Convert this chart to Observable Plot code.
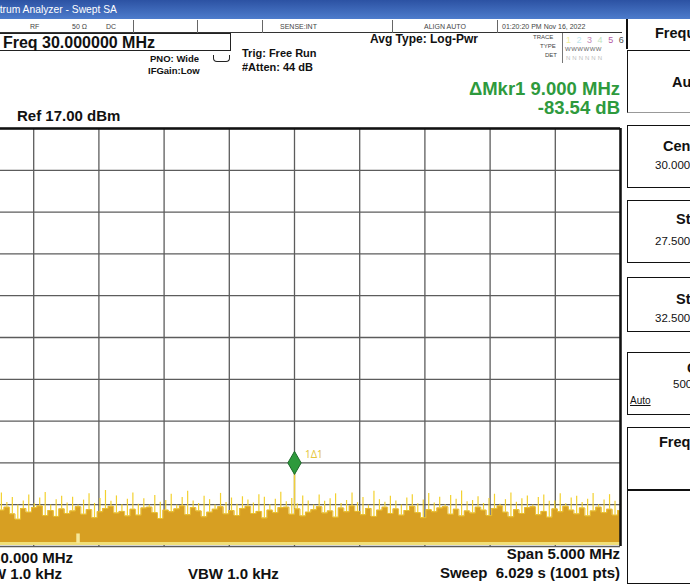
<!DOCTYPE html>
<html>
<head>
<meta charset="utf-8">
<script src="https://cdn.jsdelivr.net/npm/d3@7"></script>
<script src="https://cdn.jsdelivr.net/npm/@observablehq/plot@0.6"></script>
<style>
  html, body { margin: 0; padding: 0; overflow: hidden; background: #fff; }
  #screen { position: relative; width: 690px; height: 588px; overflow: hidden; background: #fff;
    font-family: "Liberation Sans", Arial, sans-serif; color: #111; }
  .abs { position: absolute; white-space: nowrap; line-height: 1; }
  .b { font-weight: bold; }
  .tiny { font-size: 7px; color: #444; }
  .sep { position: absolute; top: 20px; width: 1px; height: 13px; background: #666; }
  .key { position: absolute; left: 627px; width: 80px; border: 1.5px solid #111; box-sizing: border-box; }
  .kt { font-weight: bold; font-size: 14.5px; }
  .kv { font-size: 11.5px; }
  #chart { position: absolute; left: -40px; top: 120px; }
</style>
</head>
<body>
<div id="screen">
  <!-- title bar -->
  <div class="abs" style="left:0;top:0;width:690px;height:19px;background:linear-gradient(#2c52a3,#4d7ccc);"></div>
  <div class="abs" style="right:573px;top:5px;font-size:10.3px;color:#fff;">Spectrum Analyzer - Swept SA</div>

  <!-- status row -->
  <div class="abs" style="left:0;top:32px;width:622px;height:1px;background:#333;"></div>
  <div class="abs tiny" style="left:30px;top:23px;">RF</div>
  <div class="abs tiny" style="left:72px;top:23px;">50 Ω</div>
  <div class="abs tiny" style="left:106px;top:23px;">DC</div>
  <div class="sep" style="left:133px;"></div>
  <div class="sep" style="left:197px;"></div>
  <div class="sep" style="left:262px;"></div>
  <div class="abs tiny" style="left:280px;top:23px;">SENSE:INT</div>
  <div class="sep" style="left:392px;"></div>
  <div class="abs tiny" style="left:424px;top:23px;">ALIGN AUTO</div>
  <div class="sep" style="left:497px;"></div>
  <div class="abs tiny" style="left:502px;top:23px;">01:20:20 PM Nov 16, 2022</div>

  <!-- settings -->
  <div class="abs" style="left:-3px;top:33px;width:234px;height:18px;border:1.5px solid #222;box-sizing:border-box;"></div>
  <div class="abs b" style="right:535px;top:35px;font-size:16px;">Center Freq 30.000000 MHz</div>
  <div class="abs b" style="left:150px;top:54px;font-size:9.5px;">PNO: Wide</div>
  <div class="abs" style="left:213px;top:55px;width:15px;height:6px;border:1.3px solid #222;border-top:none;border-radius:0 0 4px 4px;"></div>
  <div class="abs b" style="left:148px;top:66px;font-size:9.5px;">IFGain:Low</div>
  <div class="abs b" style="left:242px;top:48px;font-size:11px;">Trig: Free Run</div>
  <div class="abs b" style="left:242px;top:62px;font-size:11px;">#Atten: 44 dB</div>
  <div class="abs b" style="left:370px;top:33px;font-size:12px;">Avg Type: Log-Pwr</div>
  <div class="abs tiny" style="left:533px;top:34px;font-size:6px;">TRACE</div>
  <div class="abs tiny" style="left:540px;top:43px;font-size:6px;">TYPE</div>
  <div class="abs tiny" style="left:545px;top:52px;font-size:6px;">DET</div>
  <div class="abs" style="left:562px;top:33px;width:1px;height:30px;background:#777;"></div>
  <div class="abs" style="left:566px;top:36px;font-size:9px;letter-spacing:1.5px;">
    <span style="color:#f3ef9a">1</span> <span style="color:#bfe8ef">2</span> <span style="color:#c58bb6">3</span>
    <span style="color:#bfe3bf">4</span> <span style="color:#b45aa4">5</span> <span style="color:#555">6</span></div>
  <div class="abs tiny" style="left:565px;top:46px;font-size:6px;letter-spacing:0.5px;color:#666;">WWWWWW</div>
  <div class="abs tiny" style="left:566px;top:55px;font-size:6px;letter-spacing:2px;color:#bbb;">NNNNNN</div>
  <div class="abs b" style="right:70px;top:80px;font-size:18.5px;color:#2e9a3d;">ΔMkr1 9.000 MHz</div>
  <div class="abs b" style="right:70px;top:99px;font-size:18.5px;color:#2e9a3d;">-83.54 dB</div>
  <div class="abs b" style="left:17px;top:108px;font-size:15px;">Ref 17.00 dBm</div>

  <!-- graticule + trace -->
  <div id="chart"></div>

  <!-- bottom annotations -->
  <div class="abs b" style="right:617px;top:550px;font-size:15px;">Center 30.000 MHz</div>
  <div class="abs b" style="right:628px;top:566px;font-size:15px;">#Res BW 1.0 kHz</div>
  <div class="abs b" style="left:188px;top:566px;font-size:15px;">VBW 1.0 kHz</div>
  <div class="abs b" style="right:70px;top:546px;font-size:15px;">Span 5.000 MHz</div>
  <div class="abs b" style="right:70px;top:565px;font-size:15px;">Sweep&nbsp;&nbsp;6.029 s (1001 pts)</div>

  <!-- softkey panel -->
  <div class="abs" style="left:626px;top:19px;width:1.5px;height:30px;background:#111;"></div>
  <div class="abs kt" style="left:655px;top:26px;">Frequency</div>
  <div class="key" style="top:50px;height:63px;border-bottom-color:#999;"></div>
  <div class="abs kt" style="left:672px;top:75px;">Auto Tune</div>
  <div class="key" style="top:125px;height:63px;"></div>
  <div class="abs kt" style="left:663px;top:139px;">Center Freq</div>
  <div class="abs kv" style="left:655px;top:160px;">30.000000 MHz</div>
  <div class="key" style="top:200px;height:63px;"></div>
  <div class="abs kt" style="left:676px;top:212px;">Start Freq</div>
  <div class="abs kv" style="left:655px;top:236px;">27.500000 MHz</div>
  <div class="key" style="top:277px;height:55px;"></div>
  <div class="abs kt" style="left:676px;top:292px;">Stop Freq</div>
  <div class="abs kv" style="left:655px;top:313px;">32.500000 MHz</div>
  <div class="key" style="top:352px;height:63px;"></div>
  <div class="abs kt" style="left:687px;top:361px;">CF Step</div>
  <div class="abs kv" style="left:673px;top:379px;">500.000 kHz</div>
  <div class="abs" style="left:630px;top:396px;font-size:10px;text-decoration:underline;">Auto</div>
  <div class="key" style="top:427px;height:63px;"></div>
  <div class="abs kt" style="left:659px;top:435px;">Freq Offset</div>
  <div class="key" style="top:490px;height:94px;"></div>
</div>

<script>
// sweep edges (MHz) and graticule
const sweepEdges = [27.5, 32.5];
const freqDivs = [27.5, 28.0, 28.5, 29.0, 29.5, 30.0, 30.5, 31.0, 31.5, 32.0, 32.5];
const levelDivs = [17, 7, -3, -13, -23, -33, -43, -53, -63, -73, -83];
const traceBase = -82.3;

// trace: solid noise top and spike tops (dBm) left to right
const noiseFloor = [
  -74.9, -74.1, -75.5, -73.8, -76.0, -74.7, -74.3, -73.6, -75.2, -76.5,
  -73.9, -74.8, -73.7, -73.3, -75.6, -74.4, -75.8, -74.0, -75.1, -74.5,
  -73.5, -75.3, -74.2, -76.1, -74.7, -73.9, -73.4, -75.0, -74.6, -75.7,
  -74.1, -75.5, -73.8, -73.6, -74.9, -76.3, -74.3, -74.7, -74.0, -73.3,
  -75.4, -73.7, -74.5, -75.9, -74.8, -74.1, -73.5, -75.2, -74.4, -75.6,
  -73.9, -73.4, -75.1, -74.6, -76.2, -74.3, -74.9, -73.7, -73.6, -75.3,
  -74.0, -75.7, -74.8, -74.2, -73.5, -75.0, -74.5, -76.0, -73.8, -74.7,
  -73.3, -74.6, -75.4, -73.9, -75.8, -74.3, -73.6, -75.1, -74.0, -75.5,
  -74.4, -73.4, -74.9, -76.1, -74.2, -74.7, -73.8, -73.5, -75.3, -74.1,
  -75.7, -74.5, -75.0, -73.6, -74.3, -75.6, -73.9, -73.3, -74.8, -75.9,
  -74.2, -75.1, -73.7, -73.5, -75.4, -74.6, -76.0, -74.0, -74.7, -73.4,
  -74.3, -75.2, -73.8, -75.7, -74.5, -73.6, -74.9, -74.1, -75.5, -74.4
];
const noisePeaks = [
  -72.3, -71.6, -73.0, -71.1, -73.1, -72.0, -70.2, -72.5, -71.3, -73.1,
  -72.1, -70.7, -72.8, -71.4, -70.1, -73.1, -71.8, -71.0, -72.6, -71.2,
  -73.1, -71.9, -70.4, -72.7, -71.5, -69.6, -72.2, -70.9, -73.0, -71.7,
  -70.2, -72.9, -71.6, -73.1, -70.8, -72.4, -72.0, -70.5, -73.1, -71.3,
  -69.8, -72.1, -72.7, -71.0, -71.8, -73.1, -70.3, -72.5, -71.4, -72.9,
  -71.1, -71.9, -72.6, -70.6, -71.2, -73.0, -71.7, -70.0, -72.3, -71.5,
  -72.8, -70.9, -72.1, -73.1, -70.7, -72.2, -71.6, -70.4, -72.7, -72.0,
  -70.2, -72.5, -71.3, -73.1, -69.8, -71.8, -72.4, -71.0, -72.1, -73.1,
  -71.4, -70.6, -72.8, -71.9, -70.3, -72.6, -71.2, -73.0, -70.8, -71.7,
  -69.7, -72.3, -72.0, -71.1, -72.7, -71.5, -70.5, -72.9, -71.8, -70.2,
  -72.4, -71.6, -70.9, -73.1, -71.3, -70.7, -72.2, -72.1, -70.4, -72.8,
  -71.4, -71.0, -72.5, -71.7, -70.3, -73.0, -71.9, -70.6, -72.2, -71.8
];

// marker 1 (delta) and the reference marker
const markerFreq = 30.0, markerLevel = -63.0, markerLabel = "1Δ1";
const refMarkerFreq = 28.34, refMarkerLevel = -80.0;

const n = noiseFloor.length;
const trace = noiseFloor.map((v, i) => ({
  f: sweepEdges[0] + i * (sweepEdges[1] - sweepEdges[0]) / (n - 1),
  floor: v,
  peak: noisePeaks[i]
}));
const yBottom = levelDivs[levelDivs.length - 1];
const yTop = levelDivs[0];

const chart = Plot.plot({
  width: 662,
  height: 430,
  marginLeft: 8,
  marginRight: 2,
  marginTop: 8,
  marginBottom: 4,
  x: { domain: sweepEdges, axis: null },
  y: { domain: [yBottom, yTop], axis: null },
  marks: [
    Plot.ruleX(freqDivs, { stroke: "#5c5c5c", strokeWidth: 1.3 }),
    Plot.ruleY(levelDivs, { stroke: "#5c5c5c", strokeWidth: 1.3 }),
    Plot.areaY(trace, { x: "f", y1: () => traceBase, y2: "floor", curve: "step", fill: "#d79f22" }),
    Plot.lineY(trace, { x: "f", y: "floor", curve: "step", stroke: "#e9bf2f", strokeWidth: 1 }),
    Plot.ruleX(trace, { x: "f", y1: "floor", y2: "peak", stroke: "#f3d12f", strokeWidth: 1.2 }),
    Plot.ruleY([traceBase], { stroke: "#f1df78", strokeWidth: 3 }),
    Plot.ruleX([refMarkerFreq], { y1: () => refMarkerLevel, y2: () => traceBase, stroke: "#f6e89a", strokeWidth: 3.5 }),
    Plot.ruleX([markerFreq], { y1: () => -74, y2: () => markerLevel, stroke: "#f0cf3a", strokeWidth: 1.5 }),
    Plot.dot([markerFreq], { x: d => d, y: () => markerLevel, symbol: "diamond", r: 7, fill: "#2d9a3c", stroke: "#1d6a2a", strokeWidth: 1 }),
    Plot.text([markerLabel], { x: () => markerFreq + 0.08, y: () => markerLevel + 2, text: d => d, fill: "#e5c53c", fontSize: 10, textAnchor: "start" }),
    Plot.ruleY([yTop], { stroke: "#111", strokeWidth: 2.5 }),
    Plot.ruleX([sweepEdges[1]], { stroke: "#111", strokeWidth: 2.5 })
  ]
});
document.getElementById("chart").append(chart);
</script>
</body>
</html>
